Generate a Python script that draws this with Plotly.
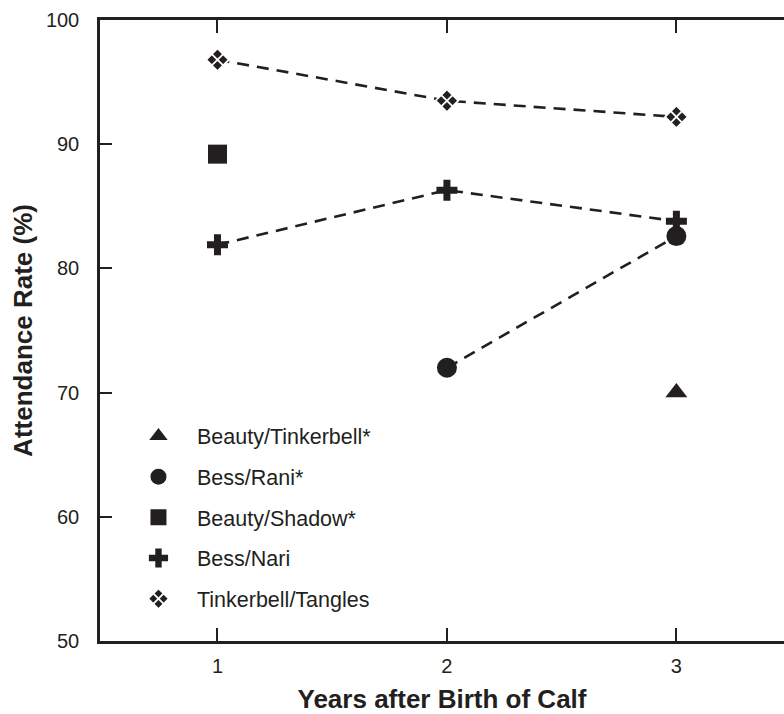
import plotly.graph_objects as go

years = [1, 2, 3]
beauty_tinkerbell = [None, None, 70.0]
bess_rani = [None, 72.0, 82.6]
beauty_shadow = [89.2, None, None]
bess_nari = [81.9, 86.3, 83.8]
tinkerbell_tangles = [96.8, 93.5, 92.2]

series_names = ["Beauty/Tinkerbell*", "Bess/Rani*", "Beauty/Shadow*", "Bess/Nari", "Tinkerbell/Tangles"]
series_values = [beauty_tinkerbell, bess_rani, beauty_shadow, bess_nari, tinkerbell_tangles]
series_lines = [False, True, False, True, True]
y_ticks = [50, 60, 70, 80, 90, 100]

INK = "#231f20"
FONT = "Liberation Sans, Arial, Helvetica, sans-serif"

symbols = ["triangle-up", "circle", "square", "cross", "diamond-x"]
sizes = [19, 20, 19, 17.5, 17.5]
line_widths = [0, 0, 0, 0, 1.8]
line_colors = [INK, INK, INK, INK, "white"]

fig = go.Figure()

# dashed connecting lines (no legend)
for name, vals, has_line in zip(series_names, series_values, series_lines):
    if has_line:
        fig.add_trace(go.Scatter(
            x=years, y=vals, mode="lines", showlegend=False, hoverinfo="skip",
            line=dict(color=INK, width=2.6, dash="12px,8px"),
        ))

# markers with legend
for i, (name, vals) in enumerate(zip(series_names, series_values)):
    fig.add_trace(go.Scatter(
        x=years, y=vals, mode="markers", name=name, legendgroup=name,
        marker=dict(symbol=symbols[i], size=sizes[i], color=INK,
                    line=dict(width=line_widths[i], color=line_colors[i])),
    ))

fig.update_layout(
    width=784, height=714,
    margin=dict(l=100, r=0, t=20, b=71),
    paper_bgcolor="white", plot_bgcolor="white",
    font=dict(family=FONT, color=INK, size=20),
    showlegend=True,
    legend=dict(
        x=0.0292, y=0.363, xanchor="left", yanchor="top",
        bgcolor="rgba(0,0,0,0)", borderwidth=0,
        font=dict(size=21.5, color=INK, family=FONT),
        tracegroupgap=9.7, traceorder="grouped", itemwidth=67,
        itemclick=False, itemdoubleclick=False,
    ),
    xaxis=dict(
        range=[0.488, 3.469], tickvals=years, ticktext=["1", "2", "3"],
        showgrid=False, zeroline=False,
        showline=True, linewidth=2.5, linecolor=INK, mirror="ticks",
        ticks="inside", ticklen=13, tickwidth=2.2, tickcolor=INK,
        ticklabelstandoff=5,
        tickfont=dict(size=20, color=INK, family=FONT),
        title=dict(text="<b>Years after Birth of Calf</b>", standoff=19,
                   font=dict(size=26, color=INK, family=FONT)),
    ),
    yaxis=dict(
        range=[50, 100], tickvals=y_ticks,
        showgrid=False, zeroline=False,
        showline=True, linewidth=2.5, linecolor=INK, mirror=False,
        ticks="inside", ticklen=12, tickwidth=2.2, tickcolor=INK,
        ticklabelstandoff=14,
        tickfont=dict(size=20, color=INK, family=FONT),
        title=dict(text="<b>Attendance Rate (%)</b>", standoff=6,
                   font=dict(size=26, color=INK, family=FONT)),
    ),
    yaxis2=dict(
        range=[50, 100], tickvals=y_ticks, overlaying="y", side="right",
        anchor="x", showgrid=False, zeroline=False, showline=False,
        ticks="inside", ticklen=6, tickwidth=2.2, tickcolor=INK,
        showticklabels=False,
    ),
)

fig.write_html("out.html", config={"displayModeBar": False},
               post_script="document.body.style.margin='0';")
